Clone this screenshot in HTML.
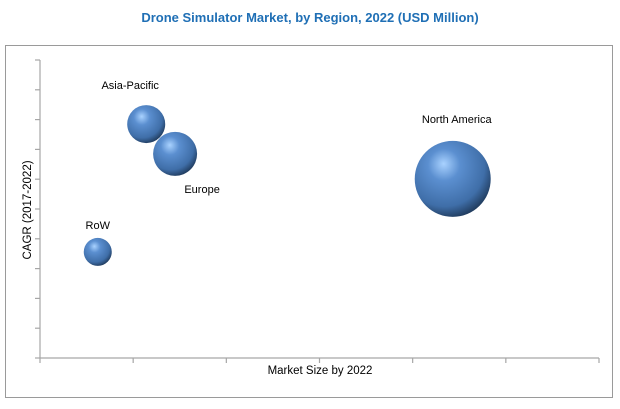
<!DOCTYPE html>
<html><head><meta charset="utf-8"><style>
body{margin:0;background:#fff;font-family:"Liberation Sans",sans-serif}
</style></head><body>
<svg width="620" height="404" viewBox="0 0 620 404">
<defs>
<radialGradient id="ball" cx="0.4" cy="0.35" r="0.7" fx="0.38" fy="0.3">
<stop offset="0" stop-color="#a9d2ff"/>
<stop offset="0.3" stop-color="#5b8fd0"/>
<stop offset="0.75" stop-color="#3f6ea8"/>
<stop offset="1" stop-color="#1c3554"/>
</radialGradient>
</defs>
<text x="310" y="22" text-anchor="middle" font-size="13" font-weight="bold" fill="#1f6fb5">Drone Simulator Market, by Region, 2022 (USD Million)</text>
<rect x="5.5" y="45.5" width="607" height="352" fill="none" stroke="#9a9a9a"/>
<g id="axes" stroke="#a6a6a6" stroke-width="1.2"></g>
<g id="bubbles"></g>
<text x="320" y="374" text-anchor="middle" font-size="11.5" fill="#000">Market Size by 2022</text>
<text transform="translate(31,210) rotate(-90)" text-anchor="middle" font-size="11.5" fill="#000">CAGR (2017-2022)</text>
</svg>
<script>
const regions=["Asia-Pacific","Europe","RoW","North America"];
const marketSize=[1.14,1.45,0.62,4.43];
const cagr=[7.85,6.85,3.56,6.01];
const bubbleRadius=[19,22,14,38];
const labelDx=[-16,27,0,4];
const labelDy=[-35,39,-23,-56];
const xTicks=[0,1,2,3,4,5,6];
const yTicks=[0,1,2,3,4,5,6,7,8,9,10];
const NS="http://www.w3.org/2000/svg";
const X0=40,X1=599,Y0=358,Y1=60;
const xs=v=>X0+(X1-X0)*v/6;
const ys=v=>Y0-(Y0-Y1)*v/10;
function mk(t,a,p){const e=document.createElementNS(NS,t);for(const k in a)e.setAttribute(k,a[k]);p.appendChild(e);return e;}
const ax=document.getElementById('axes');
let l=mk('line',{x1:X0,y1:Y0,x2:X1,y2:Y0},ax);


l=mk('line',{x1:X0,y1:Y0,x2:X0,y2:Y1},ax);


xTicks.forEach(t=>{const e=mk('line',{x1:xs(t),y1:Y0,x2:xs(t),y2:Y0+5},ax);

});
yTicks.forEach(t=>{const e=mk('line',{x1:X0-5,y1:ys(t),x2:X0,y2:ys(t)},ax);

});
const bg=document.getElementById('bubbles');
regions.forEach((r,i)=>{
const cx=xs(marketSize[i]),cy=ys(cagr[i]);
const c=mk('circle',{cx:cx,cy:cy,r:bubbleRadius[i],fill:'url(#ball)'},bg);


const t=mk('text',{x:cx+labelDx[i],y:cy+labelDy[i],'text-anchor':'middle','font-size':'11',fill:'#000'},bg);
t.textContent=r;


});
</script>
</body></html>
